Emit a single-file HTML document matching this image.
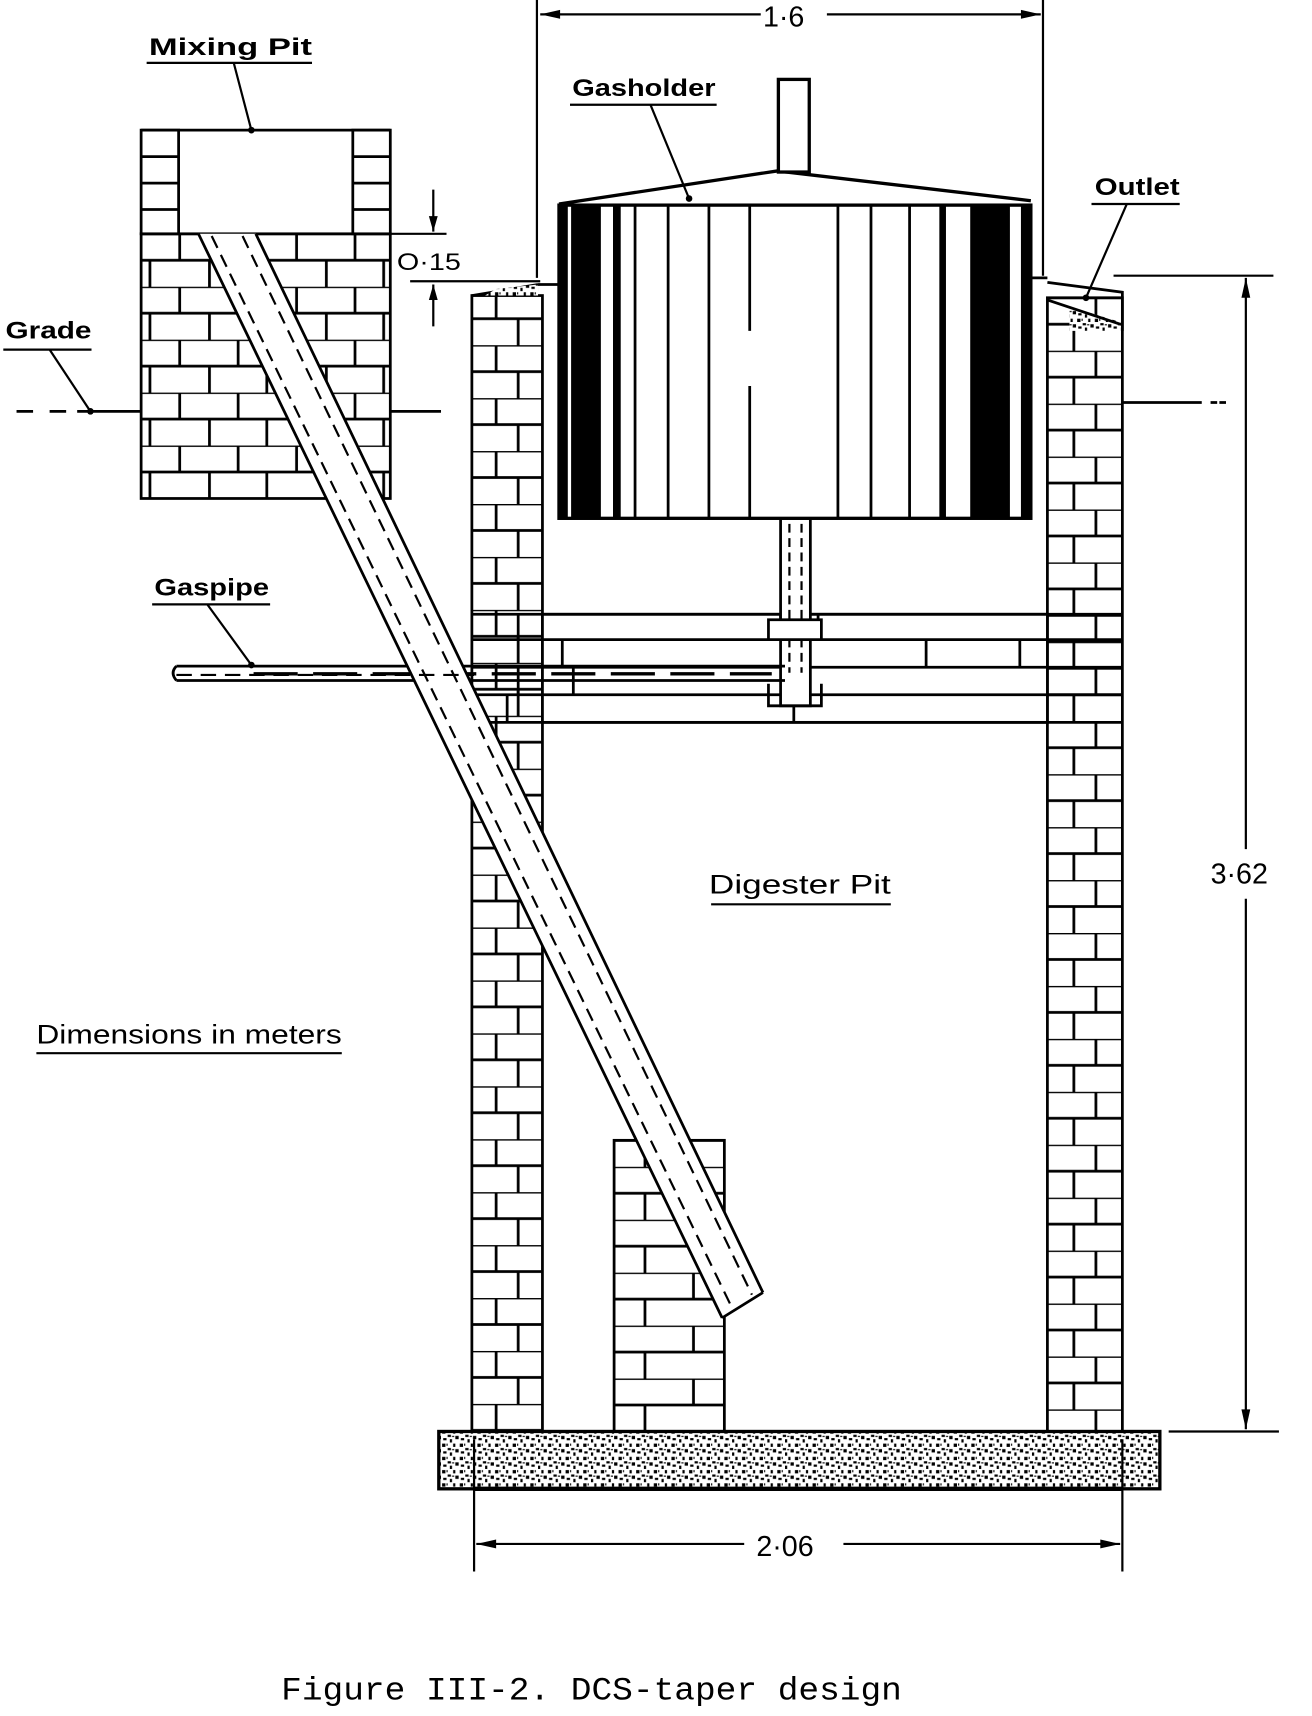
<!DOCTYPE html>
<html><head><meta charset="utf-8"><style>
html,body{margin:0;padding:0;background:#fff;}
svg{display:block;}
text{fill:#000;}
</style></head><body>
<svg width="1312" height="1716" viewBox="0 0 1190 1556" preserveAspectRatio="none" xmlns="http://www.w3.org/2000/svg" font-family="Liberation Sans, sans-serif">
<defs>
<pattern id="bw" patternUnits="userSpaceOnUse" x="428" y="265" width="64" height="48">
<rect width="64" height="48" fill="#fff"/>
<path d="M0 0H64M0 24H64M22 0V24M42 24V48" stroke="#000" stroke-width="2.5"/>
</pattern>
<pattern id="bw2" patternUnits="userSpaceOnUse" x="950" y="270" width="68" height="48">
<rect width="68" height="48" fill="#fff"/>
<path d="M0 0H68M0 24H68M44 0V24M24 24V48" stroke="#000" stroke-width="2.5"/>
</pattern>
<pattern id="bw3" patternUnits="userSpaceOnUse" x="557" y="1010" width="100" height="48">
<rect width="100" height="48" fill="#fff"/>
<path d="M0 0H100M0 24H100M72 0V24M28 24V48" stroke="#000" stroke-width="2.5"/>
</pattern>
<pattern id="bm" patternUnits="userSpaceOnUse" x="128" y="212" width="106" height="48">
<rect width="106" height="48" fill="#fff"/>
<path d="M0 0H106M0 24H106M35 0V24M88 0V24M8 24V48M62 24V48" stroke="#000" stroke-width="2.5"/>
</pattern>
<pattern id="sp" patternUnits="userSpaceOnUse" width="16" height="12">
<rect width="16" height="12" fill="#fff"/>
<g fill="#000"><rect x="1" y="1" width="3" height="3"/><rect x="6" y="5" width="3" height="2"/><rect x="11" y="1" width="2" height="3"/><rect x="13" y="6" width="3" height="3"/><rect x="2" y="8" width="3" height="2"/><rect x="8" y="9" width="2" height="3"/><rect x="5" y="1" width="1" height="2"/><rect x="10" y="6" width="2" height="1"/></g>
</pattern>
</defs>

<g stroke="#000" stroke-width="2.5" fill="none">
<rect x="128" y="212" width="226" height="240" fill="url(#bm)"/>
<rect x="128" y="118" width="34" height="94" fill="#fff"/>
<rect x="320" y="118" width="34" height="94" fill="#fff"/>
<path d="M128 142H162M128 166H162M128 190H162M320 142H354M320 166H354M320 190H354"/>
<path d="M128 118H354"/>

<rect x="428" y="268" width="64" height="1030" fill="url(#bw)"/>
<rect x="950" y="270" width="68" height="1028" fill="url(#bw2)"/>
<rect x="557" y="1034" width="100" height="264" fill="url(#bw3)"/>
<path d="M428 268L488 258" />
<path d="M950 256L1018 265V300" />
<polygon points="450,262 488,258 488,268 440,268" fill="url(#sp)" stroke="none"/>
<polygon points="970,278 1016,292 1016,300 970,300" fill="url(#sp)" stroke="none"/>
<path d="M950 272L1016 294"/>

<rect x="492" y="557" width="458" height="98" fill="#fff"/>
<path d="M428 557H1018M428 580H1018M428 605H1018M428 630H1018M428 655H1018"/>
<path d="M470 557V580M708 557V580M742 557V580M510 580V605M840 580V605M925 580V605M470 605V630M520 605V630M460 630V655M720 630V655"/>

<rect x="708" y="470" width="27" height="170" fill="#fff"/>
<path d="M716 475V610M727 475V610" stroke-dasharray="8 5" stroke-width="2"/>
<path d="M697 562H745V580H697Z" fill="#fff"/>
<path d="M697 620V640H745V620"/>

<path d="M160 604H712M160 617H712" />
<path d="M160 604Q154 610 160 617"/>
<path d="M230 611H700" stroke-dasharray="40 14" stroke-width="3"/>

<polygon points="180,212 232,212 692,1172 655,1195" fill="#fff" stroke="none"/>
<path d="M180 212L655 1195M232 212L692 1172M655 1195L692 1172"/>
<path d="M192 214L664 1186M220 214L682 1174" stroke-dasharray="12 7" stroke-width="2"/>
<path d="M160 612H430" stroke-dasharray="14 8" stroke-width="2"/>

<path d="M507 185L705 155L935 182" stroke-width="3"/>
<rect x="706" y="72" width="28" height="84" fill="#fff" stroke-width="3"/>
<rect x="507" y="186" width="428" height="284" fill="#fff" stroke-width="3"/>
<g fill="#000" stroke="none">
<rect x="508" y="186" width="7" height="284"/>
<rect x="518" y="186" width="27" height="284"/>
<rect x="556" y="186" width="7" height="284"/>
<rect x="852" y="186" width="6" height="284"/>
<rect x="880" y="186" width="36" height="284"/>
<rect x="926" y="186" width="9" height="284"/>
</g>
<path d="M576 186V470M606 186V470M643 186V470M680 186V300M680 350V470M760 186V470M790 186V470M825 186V470"/>
<path d="M488 258H507M935 252H950"/>

<rect x="398" y="1298" width="654" height="52" fill="url(#sp)" stroke-width="3"/>
<path d="M430 1350H1018" stroke-width="4"/>

<path d="M487 0V252M946 0V250" stroke-width="2"/>
<path d="M490 13H690M750 13H944" stroke-width="2"/>
<path d="M430 1305V1425M1018 1305V1425" stroke-width="2"/>
<path d="M432 1400H675M765 1400H1016" stroke-width="2"/>
<path d="M1010 250H1155M1060 1298H1160M1130 252V770M1130 815V1296" stroke-width="2"/>
<path d="M355 212H405M372 255H490M393 172V210M393 258V296" stroke-width="2"/>
<path d="M15 373H30M45 373H60M70 373H128M354 373H400M1018 365H1090" stroke-width="2.5"/>
<path d="M1098 365H1104M1106 365H1112" stroke-width="2.5"/>
<path d="M133 57H283M212 57L228 118M517 95H650M590 95L625 180M990 185H1070M1022 185L985 270M3 317H83M45 317L82 373M138 548H245M188 548L228 603M645 820H808M33 955H310" stroke-width="2"/>
</g>
<g fill="#000"><polygon points="490,13 508,9 508,17"/><polygon points="944,13 926,9 926,17"/>
<polygon points="432,1400 450,1396 450,1404"/><polygon points="1016,1400 998,1396 998,1404"/>
<polygon points="1130,252 1126,270 1134,270"/><polygon points="1130,1296 1126,1278 1134,1278"/>
<polygon points="393,210 389,196 397,196"/><polygon points="393,258 389,272 397,272"/>
<circle cx="228" cy="118" r="3"/><circle cx="625" cy="180" r="3"/><circle cx="985" cy="270" r="3"/><circle cx="82" cy="373" r="3"/><circle cx="228" cy="603" r="3"/></g>

<g font-weight="bold" font-size="22">
<text x="135" y="50" textLength="148" lengthAdjust="spacingAndGlyphs">Mixing  Pit</text>
<text x="519" y="87" textLength="130" lengthAdjust="spacingAndGlyphs">Gasholder</text>
<text x="993" y="177" textLength="77" lengthAdjust="spacingAndGlyphs">Outlet</text>
<text x="5" y="307" textLength="78" lengthAdjust="spacingAndGlyphs">Grade</text>
<text x="140" y="540" textLength="104" lengthAdjust="spacingAndGlyphs">Gaspipe</text>
</g>
<g font-size="24">
<text x="643" y="810" textLength="165" lengthAdjust="spacingAndGlyphs">Digester  Pit</text>
<text x="33" y="946" textLength="277" lengthAdjust="spacingAndGlyphs">Dimensions in meters</text>
<text x="692" y="24" font-size="26">1·6</text>
<text x="686" y="1411" font-size="26">2·06</text>
<text x="1098" y="801" font-size="26">3·62</text>
<text x="360" y="245" font-size="22" textLength="58" lengthAdjust="spacingAndGlyphs">O·15</text>
</g>
<text x="255" y="1541" style="font-family:'Liberation Mono',monospace" font-size="29" textLength="563" lengthAdjust="spacingAndGlyphs">Figure III-2. DCS-taper design</text>
</svg>
</body></html>
